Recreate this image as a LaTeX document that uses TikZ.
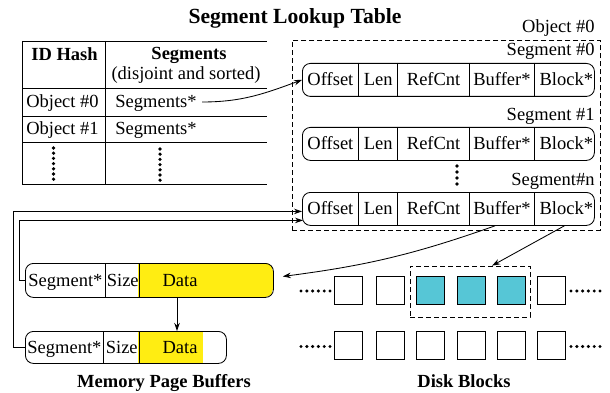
\documentclass[tikz,border=0pt]{standalone}
\usepackage{fontspec}
\setmainfont{Liberation Serif}
\usetikzlibrary{arrows.meta,calc}
\definecolor{dyellow}{RGB}{255,237,18}
\definecolor{dblue}{RGB}{86,198,214}
\newcommand\bodyfont{\fontsize{18.5}{21}\selectfont}
\newcommand\labfont{\fontsize{18.5}{21}\selectfont\bfseries}
\newcommand\titlefont{\fontsize{21.6}{24}\selectfont\bfseries}
\newcommand\mysegrow[2]{%
  \node[rowbox, minimum width=292pt, minimum height=33pt] (#1) at (302,#2) {};
  \node[cell, minimum width=56pt] (#1-off) at (302,#2) {Offset};
  \node[cell, minimum width=38pt] (#1-len) at (#1-off.north east) {Len};
  \node[cell, minimum width=71pt] (#1-ref) at (#1-len.north east) {RefCnt};
  \node[cell, minimum width=64pt] (#1-buf) at (#1-ref.north east) {Buffer*};
  \node[cell, minimum width=63pt] (#1-blk) at (#1-buf.north east) {Block*};
  \draw (#1-len.north west) -- (#1-len.south west);
  \draw (#1-ref.north west) -- (#1-ref.south west);
  \draw (#1-buf.north west) -- (#1-buf.south west);
  \draw (#1-blk.north west) -- (#1-blk.south west);
}
\begin{document}
\begin{tikzpicture}[x=1pt,y=-1pt,line width=0.85pt,
  rowbox/.style={draw, rounded corners=8pt, anchor=north west, inner sep=0pt},
  cell/.style={anchor=north west, inner sep=0pt, minimum height=33pt, text height=13pt, text depth=1pt, font=\bodyfont},
  txt/.style={inner sep=0pt, text height=13pt, text depth=1pt, font=\bodyfont},
  lab/.style={inner sep=0pt, text height=13pt, text depth=1pt, font=\labfont},
  arr/.style={-{Stealth[length=8pt,width=5.5pt]}},
  dbox/.style={draw, dash pattern=on 5pt off 3pt, line width=0.7pt},
  blk/.style={draw, minimum size=28pt, inner sep=0pt, line width=0.7pt}]
\useasboundingbox (0,0) rectangle (610,393);

% title
\node[inner sep=0pt, font=\titlefont] (title) at (295,18) {Segment Lookup Table};

% lookup table
\draw (22,41) -- (267,41);
\draw (22,88) -- (267,88);
\draw (22,116) -- (267,116);
\draw (22,142) -- (267,142);
\draw (22,184) -- (267,184);
\draw (22,41) -- (22,184);
\draw (105,41) -- (105,184);
\node[lab] (hid) at (64.5,55) {ID Hash};
\node[lab] (hseg) at (189,54) {Segments};
\node[txt] (hsub) at (186,74) {(disjoint and sorted)};
\node[txt] (o0) at (62.5,102) {Object \#0};
\node[txt, anchor=west] (s0) at (115,102) {Segments*};
\node[txt] (o1) at (62.5,129) {Object \#1};
\node[txt, anchor=west] (s1) at (115,129) {Segments*};
\foreach \i in {0,...,6} {
  \fill (53.5,148+\i*5.2) circle (1.8pt);
  \fill (160,149+\i*5.2) circle (1.8pt);
}

% object box
\node[dbox, anchor=north west, minimum width=308pt, minimum height=190pt, inner sep=0pt] (obj) at (292,40) {};
\node[txt, anchor=east] (objl) at (595,27) {Object \#0};
\node[txt, anchor=east] (sl0) at (595,50) {Segment \#0};
\node[txt, anchor=east] (sl1) at (595,115) {Segment \#1};
\node[txt, anchor=east] (sln) at (595,179) {Segment\#n};
\mysegrow{seg0}{63}
\mysegrow{seg1}{127}
\mysegrow{segn}{192}
\foreach \i in {0,...,3} \fill (457,166+\i*6) circle (1.8pt);

% memory page buffers
\begin{scope}
  \clip[rounded corners=8pt] (25,263) rectangle (273,297);
  \fill[dyellow] (138,263) rectangle (273,297);
\end{scope}
\fill[dyellow] (138,331) rectangle (203,363);
\node[rowbox, minimum width=248pt, minimum height=34pt] (mb1) at (25,263) {};
\node[cell, minimum width=80pt, minimum height=34pt] (mb1-seg) at (25,263) {Segment*};
\node[cell, minimum width=33pt, minimum height=34pt] (mb1-size) at (mb1-seg.north east) {Size};
\draw (mb1-size.north west) -- (mb1-size.south west);
\draw (mb1-size.north east) -- (mb1-size.south east);
\node[txt] (mb1-data) at (180,280) {Data};

\node[rowbox, minimum width=201pt, minimum height=32pt] (mb2) at (25,331) {};
\node[cell, minimum width=78pt, minimum height=32pt] (mb2-seg) at (25,331) {Segment*};
\node[cell, minimum width=35pt, minimum height=32pt] (mb2-size) at (mb2-seg.north east) {Size};
\draw (mb2-size.north west) -- (mb2-size.south west);
\draw (mb2-size.north east) -- (mb2-size.south east);
\node[txt] (mb2-data) at (180,347) {Data};

\node[lab] (mpb) at (164,381) {Memory Page Buffers};

% disk blocks
\node[dbox, minimum width=120pt, minimum height=51pt, inner sep=0pt] (grp) at (470,291.5) {};
\foreach \x [count=\k] in {348,390,430,471,511,551} {
  \node[blk] (b1-\k) at (\x,290.5) {};
  \node[blk] (b2-\k) at (\x,345.5) {};
}
\foreach \k in {3,4,5} \node[blk, fill=dblue] at (b1-\k) {};
\foreach \i in {0,...,5} {
  \fill (301+\i*5.8,291) circle (1.7pt);
  \fill (571+\i*5.8,291) circle (1.7pt);
  \fill (301+\i*5.8,346.5) circle (1.7pt);
  \fill (571+\i*5.8,346.5) circle (1.7pt);
}
\node[lab] (dbl) at (464,381) {Disk Blocks};

% connectors
\draw[arr] ([xshift=5pt]s0.east) to[out=0,in=200] (seg0.west);
\draw[arr] (mb2.west) -- ++(-12,0) |- ($(segn.west)+(0,2.5)$);
\draw[arr] (mb1.west) -- ++(-6,0) |- ($(segn.west)+(1,11.5)$);
\draw[arr] ($(mb1.south west)+(152,0)$) -- ($(mb2.north west)+(152,0)$);
\coordinate (bufout) at ($(segn-buf.south)+(-7,0)$);
\draw[arr] (bufout) to[bend left=6] ($(mb1.east)+(9,-4)$);
\coordinate (blkout) at ($(segn-blk.south)+(-2,0)$);
\draw[arr] (blkout) -- ($(grp.north west)!0.683!(grp.north east)$);
\end{tikzpicture}
\end{document}
